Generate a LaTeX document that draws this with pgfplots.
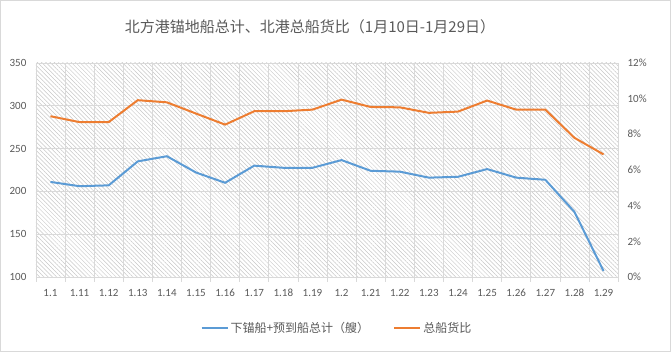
\documentclass[border=0pt]{standalone}
\usepackage{fontspec}
\usepackage{pgfplots}
\pgfplotsset{compat=1.18}
\usetikzlibrary{patterns.meta}
\setmainfont{Carlito}
\newfontfamily\cjk{Noto Sans CJK SC}
\definecolor{sblue}{HTML}{5B9BD5}
\definecolor{sorange}{HTML}{ED7D31}
\definecolor{gridc}{HTML}{D9D9D9}
\definecolor{txt}{HTML}{595959}
\pgfplotstableread{
x ships ratio
0 211 9.01
1 206 8.68
2 207 8.68
3 235 9.91
4 241 9.79
5 222 9.16
6 210 8.54
7 230 9.29
8 227.5 9.29
9 227.5 9.38
10 236.5 9.94
11 224 9.53
12 223 9.51
13 216 9.20
14 217 9.27
15 226 9.89
16 216 9.38
17 213.5 9.38
18 176 7.80
19 107 6.87
}\datatable
\begin{document}
\begin{tikzpicture}[x=1bp,y=1bp]
\draw[gridc, line width=0.75bp] (0.5,0.5) rectangle (670.5,351.5);
\node[font=\cjk\fontsize{15bp}{18bp}\selectfont, text=txt] at (310,325) {北方港锚地船总计、北港总船货比（1月10日-1月29日）};
\begin{axis}[
  at={(36bp,75bp)}, anchor=south west, scale only axis,
  width=582bp, height=214bp,
  xmin=-0.5, xmax=19.5, ymin=100, ymax=350,
  ytick={100,150,...,350},
  xtick={0,...,19},
  xticklabels={1.1,1.11,1.12,1.13,1.14,1.15,1.16,1.17,1.18,1.19,1.2,1.21,1.22,1.23,1.24,1.25,1.26,1.27,1.28,1.29},
  minor xtick={-0.5,0.5,...,19.5},
  xminorgrids=true, ymajorgrids=true,
  grid style={gridc, line width=0.75bp},
  minor grid style={gridc, line width=0.75bp},
  axis line style={draw=none},
  major tick length=0pt,
  minor tick length=5bp,
  tick pos=left,
  tick align=outside,
  minor tick style={gridc, line width=0.75bp},
  axis background/.style={pattern={Lines[angle=-45,distance=3bp,line width=0.5bp]}, pattern color=gridc!80!gray},
  tick label style={font=\fontsize{11bp}{13bp}\selectfont, text=txt},
  /pgf/number format/assume math mode=true,
  xticklabel style={yshift=-8bp, text height=8bp, text depth=2bp},
  yticklabel style={xshift=-6bp},
  legend style={at={(0.517,-0.238)}, anchor=center, draw=none, fill=none,
    font=\cjk\fontsize{12bp}{14bp}\selectfont, text=txt,
    legend columns=2, /tikz/every even column/.append style={column sep=22bp}},
  legend cell align=left,
  legend image code/.code={\draw[#1, line width=2bp] (0bp,0bp) -- (26bp,0bp);},
]
\addplot[sblue, line width=2bp] table[x=x, y=ships] {\datatable};
\addlegendentry{下锚船+预到船总计（艘）}
\addlegendimage{sorange, line width=2bp}
\addlegendentry{总船货比}
\end{axis}
\begin{axis}[
  at={(36bp,75bp)}, anchor=south west, scale only axis,
  width=582bp, height=214bp,
  xmin=-0.5, xmax=19.5, ymin=0, ymax=12,
  ytick={0,2,...,12},
  yticklabel={\pgfmathprintnumber{\tick}\%},
  axis x line=none,
  axis y line*=right,
  axis line style={draw=none},
  major tick length=0pt,
  tick label style={font=\fontsize{11bp}{13bp}\selectfont, text=txt},
  /pgf/number format/assume math mode=true,
  yticklabel style={xshift=6bp},
]
\addplot[sorange, line width=2bp] table[x=x, y=ratio] {\datatable};
\end{axis}
\end{tikzpicture}
\end{document}
